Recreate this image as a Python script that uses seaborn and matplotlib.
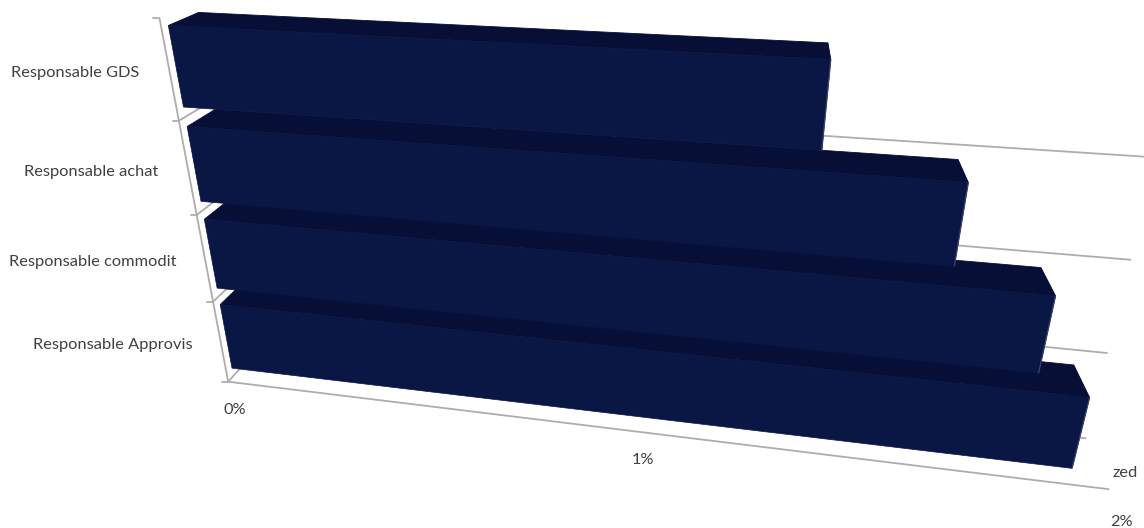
import numpy as np
import pandas as pd
import matplotlib
matplotlib.use("Agg")
import matplotlib.pyplot as plt
from matplotlib.patches import Polygon
from matplotlib.transforms import Transform
import seaborn as sns

# ---- data ----
categories = ["Responsable GDS", "Responsable achat", "Responsable commodit", "Responsable Approvis"]
values = [1.355, 1.63, 1.825, 1.93]
value_ticks = [0, 1, 2]
value_tick_labels = ["0%", "1%", "2%"]
series_name = "zed"

FRONT = "#0A1644"
TOP = "#080F36"
SIDE = "#39446B"
GRID = "#ADADAD"
TEXT = "#404040"

sns.set_theme(style="white")
plt.rcParams["font.family"] = ["Lato", "DejaVu Sans"]

BAR_WIDTH = 0.8
Z0, Z1 = 0.15, 0.85

# ---- perspective camera calibration: (value, slot, depth) -> pixels, with weights ----
calib = [
    ((0,0,0),(229,380),3), ((0,1,0),(213,300),3), ((0,2,0),(197,214),3), ((0,3,0),(178,120),3), ((0,4,0),(158,18),3),
    ((2,0,0),(1109,490),3), ((0,0,1),(252,357),1), ((2,0,1),(1089,433),1), ((2,1,1),(1108,347),1),
    ((2,2,1),(1128,254),1), ((2,3,1),(1150,154),1),
]
_gap = (1 - BAR_WIDTH) / 2
_seen = [  # left/right ends of each box as seen on screen, top box first
    [(168,27),(183,108),(214,11),(832,60),(824,151),(835,41)],
    [(187,127),(199,202),(220,110),(965,183),(955,267),(961,155)],
    [(205,219),(218,288),(227,204),(1055,297),(1040,375),(1042,261)],
    [(222,305),(233,368),(238,291),(1088,399),(1073,471),(1073,357)],
]
for i, s in enumerate(_seen):
    yt, yb = 4 - i - _gap, 3 - i + _gap
    v = values[i]
    calib += [((0,yt,Z0),s[0],2), ((0,yb,Z0),s[1],2), ((0,yt,Z1),s[2],1),
              ((v,yt,Z0),s[3],2), ((v,yb,Z0),s[4],2), ((v,yt,Z1),s[5],1)]
A, b = [], []
for (X, Y, Z), (u, v), w in calib:
    A.append([w*c for c in [X, Y, Z, 1, 0, 0, 0, 0, -u*X, -u*Y, -u*Z]]); b.append(w*u)
    A.append([w*c for c in [0, 0, 0, 0, X, Y, Z, 1, -v*X, -v*Y, -v*Z]]); b.append(w*v)
P = np.append(np.linalg.lstsq(np.array(A, float), np.array(b, float), rcond=None)[0], 1.0).reshape(3, 4)


def project(X, Y, Z):
    q = P @ np.array([X, Y, Z, 1.0])
    return q[0] / q[2], q[1] / q[2]


class Proj(Transform):
    """(value, categorical position) on the plane of depth z -> pixels."""
    input_dims = output_dims = 2
    is_separable = False
    has_inverse = False

    def __init__(self, z):
        super().__init__()
        self.z = z

    def transform_non_affine(self, xy):
        xy = np.asarray(xy, float)
        pts = np.column_stack([xy[:, 0], 3.5 - xy[:, 1], np.full(len(xy), self.z), np.ones(len(xy))])
        q = pts @ P.T
        return q[:, :2] / q[:, 2:3]


fig = plt.figure(figsize=(11.44, 5.28), dpi=100)
ax = fig.add_axes([0, 0, 1, 1])
df = pd.DataFrame({"category": categories, "value": values})
sns.barplot(data=df, x="value", y="category", color=FRONT, saturation=1, width=BAR_WIDTH, ax=ax)
ax.set_xlim(0, 1144)
ax.set_ylim(528, 0)
ax.axis("off")


def seg(a, b_, lw=1.3, z=1, color=GRID):
    pa, pb = project(*a), project(*b_)
    ax.plot([pa[0], pb[0]], [pa[1], pb[1]], color=color, lw=lw, zorder=z, solid_capstyle="butt")


vmax = value_ticks[-1]
seg((0, 0, 0), (0, 4, 0))
seg((0, 0, 0), (vmax, 0, 0))
for k in range(5):
    pt = project(0, k, 0)
    ax.plot([pt[0] - 6, pt[0]], [pt[1], pt[1]], color=GRID, lw=1.3, zorder=1)
for k in range(4):
    seg((0, k, 0), (0, k, 1))
    seg((0, k, 1), (vmax, k, 1))

# bars: seaborn's rectangles are the front faces; tops and sides follow from them
front = Proj(Z0)
n_bars = len(categories)
for i, bar in enumerate(ax.patches):
    v = bar.get_width()
    y0, y1 = bar.get_y(), bar.get_y() + bar.get_height()
    Yb, Yt = 3.5 - y1, 3.5 - y0
    order = 3 + 4 * (n_bars - i)
    top = [project(0, Yt, Z0), project(v, Yt, Z0), project(v, Yt, Z1), project(0, Yt, Z1)]
    side = [project(v, Yt, Z0), project(v, Yb, Z0), project(v, Yb, Z1), project(v, Yt, Z1)]
    ax.add_patch(Polygon(side, closed=True, fc=SIDE, ec="none", zorder=order))
    ax.add_patch(Polygon(top, closed=True, fc=TOP, ec=TOP, lw=0.6, zorder=order + 1))
    bar.set_transform(front + ax.transData)
    bar.set_zorder(order + 2)
    bar.set_edgecolor(FRONT)
    bar.set_linewidth(0.5)
    seg((v, Yb, Z0), (v, Yt, Z0), lw=0.9, z=order + 3, color=SIDE)

# text
for i, name in enumerate(categories):
    x, y = project(0, 3.5 - i, 0)
    ax.text(x - 30 + 0.5 * i, y + 3, name, ha="right", va="center", fontsize=11.8, color=TEXT, zorder=50)
for t, lab in zip(value_ticks, value_tick_labels):
    x, y = project(t, 0, 0)
    ax.text(x + 7 + 2.5 * t, y + 28 + 1.25 * t * t, lab, ha="center", va="center", fontsize=11.8, color=TEXT, zorder=50)
ax.text(1125, 473, series_name, ha="center", va="center", fontsize=11.8, color=TEXT, zorder=50)

fig.savefig("out.png", dpi=100)
